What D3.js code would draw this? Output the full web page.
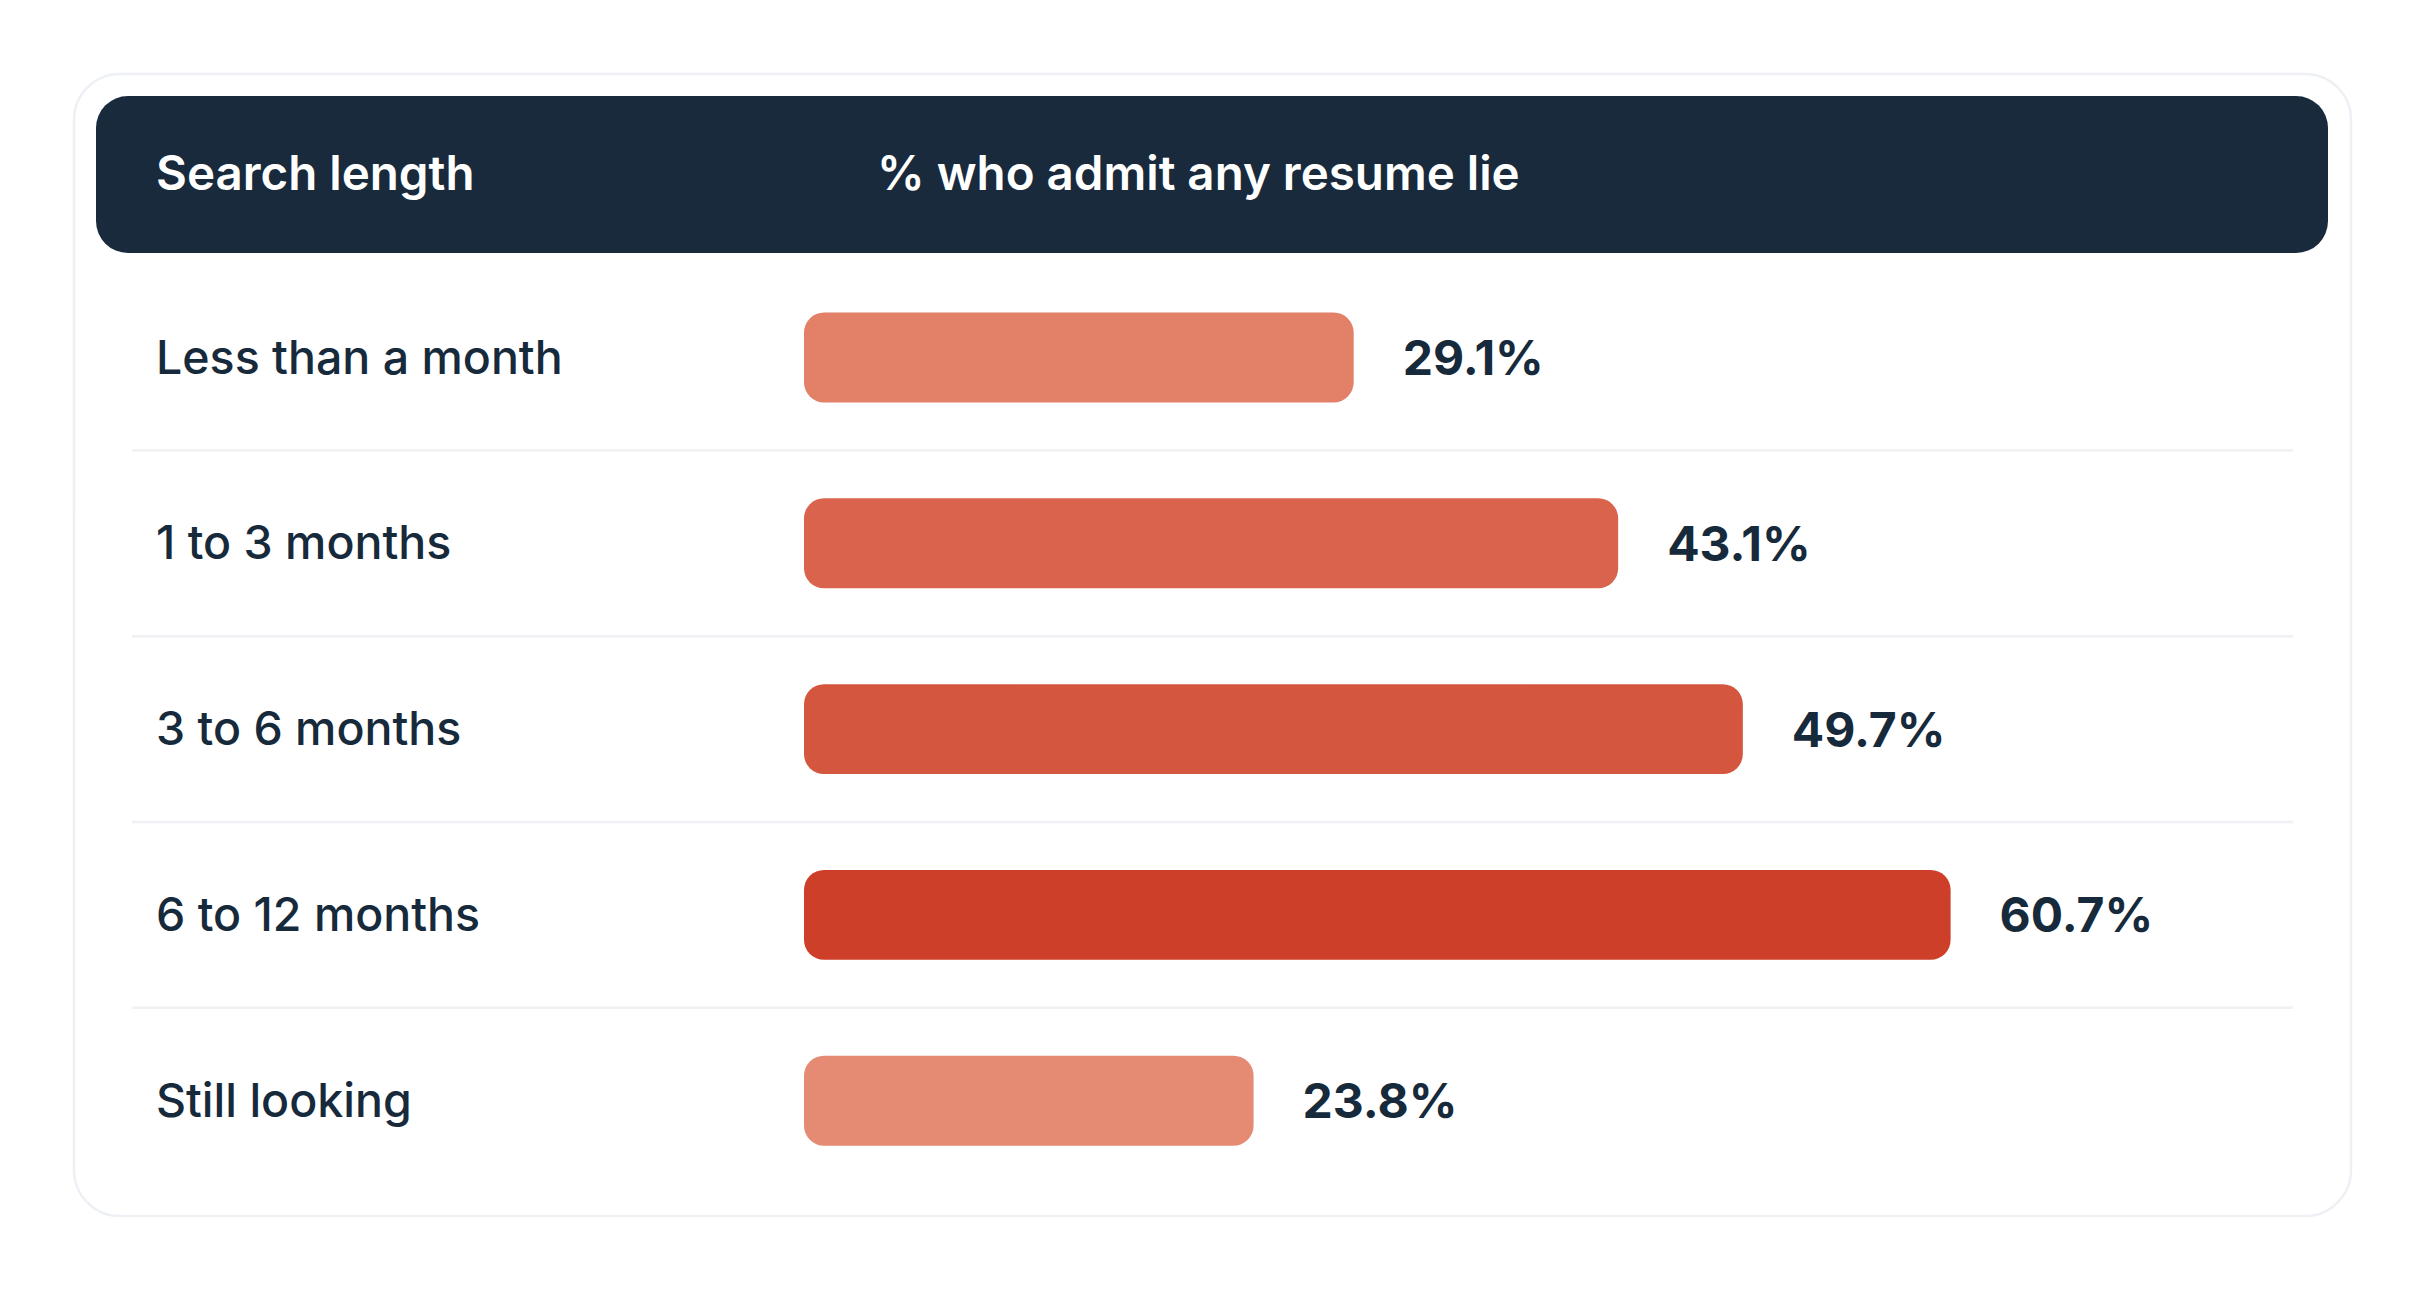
<!DOCTYPE html>
<html>
<head>
<meta charset="utf-8">
<script src="https://cdn.jsdelivr.net/npm/d3@7"></script>
<style>
  html, body { margin: 0; padding: 0; background: #ffffff; }
  svg { display: block; font-family: Inter, "Open Sans", sans-serif; }
</style>
</head>
<body>
<svg id="chart" width="2424" height="1290"></svg>
<script>
// search length buckets and share who admit any resume lie (%)
var categories = ["Less than a month", "1 to 3 months", "3 to 6 months", "6 to 12 months", "Still looking"];
var values = [29.1, 43.1, 49.7, 60.7, 23.8];
var headers = ["Search length", "% who admit any resume lie"];

var svg = d3.select("#chart");
var width = +svg.attr("width"),
    height = +svg.attr("height");

var ink = "#172a3b";

// outer card
svg.append("rect")
    .attr("x", 74).attr("y", 74)
    .attr("width", 2277).attr("height", 1142)
    .attr("rx", 46).attr("ry", 46)
    .attr("fill", "#ffffff")
    .attr("stroke", "#edf0f4")
    .attr("stroke-width", 2.5);

// header band
svg.append("rect")
    .attr("x", 96).attr("y", 96)
    .attr("width", 2232).attr("height", 157)
    .attr("rx", 32).attr("ry", 32)
    .attr("fill", "#182a3c");

svg.selectAll("text.head")
    .data(headers)
    .enter().append("text")
    .attr("class", "head")
    .attr("x", function(d, i) { return i === 0 ? 156 : 877; })
    .attr("y", 190)
    .attr("fill", "#ffffff")
    .attr("font-size", 47.5)
    .attr("font-weight", 600)
    .text(function(d) { return d; });

var x = d3.scaleLinear()
    .domain([0, 100])
    .range([804, 804 + 1889]);

var y = d3.scaleBand()
    .domain(categories)
    .range([264.6, 1193.6])
    .paddingInner(0.516)
    .paddingOuter(0.258);

// lighter for low shares, deeper red for high
var color = d3.scaleLinear()
    .domain([d3.min(values), d3.max(values)])
    .range(["#e68b73", "#cd3f29"]);

var rows = categories.map(function(c, i) { return { cat: c, value: values[i] }; });

// row separators
svg.append("g")
    .selectAll("line")
    .data(categories.slice(0, -1))
    .enter().append("line")
    .attr("x1", 132).attr("x2", 2293)
    .attr("y1", function(d) { return y(d) + y.bandwidth() / 2 + y.step() / 2; })
    .attr("y2", function(d) { return y(d) + y.bandwidth() / 2 + y.step() / 2; })
    .attr("stroke", "#f0f0f5")
    .attr("stroke-width", 2.5);

var row = svg.append("g")
    .selectAll("g")
    .data(rows)
    .enter().append("g");

row.append("text")
    .attr("x", 156)
    .attr("y", function(d) { return y(d.cat) + y.bandwidth() / 2 + 16; })
    .attr("fill", ink)
    .attr("font-size", 46.5)
    .attr("font-weight", 500)
    .text(function(d) { return d.cat; });

row.append("rect")
    .attr("x", x(0))
    .attr("y", function(d) { return y(d.cat); })
    .attr("width", function(d) { return x(d.value) - x(0); })
    .attr("height", y.bandwidth())
    .attr("rx", 20).attr("ry", 20)
    .attr("fill", function(d) { return color(d.value); });

row.append("text")
    .attr("x", function(d) { return x(d.value) + 49; })
    .attr("y", function(d) { return y(d.cat) + y.bandwidth() / 2 + 17.5; })
    .attr("fill", ink)
    .attr("font-size", 48)
    .attr("font-weight", 700)
    .text(function(d) { return d.value.toFixed(1) + "%"; });
</script>
</body>
</html>
